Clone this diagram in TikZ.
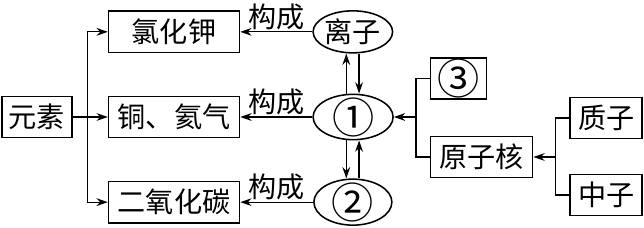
\documentclass[tikz,border=0pt]{standalone}
\usepackage{fontspec}
\newfontfamily\cjk{Noto Sans CJK SC}
\usetikzlibrary{positioning, arrows.meta, shapes.geometric}

\begin{document}
\begin{tikzpicture}[>={Stealth[length=8pt,width=5.5pt]}, line width=0.9pt,
                font=\cjk\fontsize{20}{24}\selectfont,
                box/.style={draw, line width=1.1pt, minimum height=1.03cm, inner sep=0pt},
                oval/.style={draw, ellipse, line width=1.1pt, inner sep=0pt},
                num/.style={font=\cjk\fontsize{30}{30}\selectfont, text height=22.8pt, text depth=0pt}]
                \useasboundingbox (0,0) rectangle (16.1,-5.7);
                \node[box, minimum width=1.75cm] (yuansu) at (0.925,-2.925) {元素};
                \node[box, minimum width=3.275cm] (cuhe) [right=0.875cm of yuansu] {铜、氦气};
                \node[box, minimum width=3.275cm] (kcl) [above=1.06cm of cuhe] {氯化钾};
                \node[box, minimum width=3.275cm] (co2) [below=1.06cm of cuhe] {二氧化碳};
                \node[oval, minimum width=1.775cm, minimum height=1.05cm] (ion) [right=1.8cm of kcl] {离子};
                \node[oval, num, minimum width=2cm, minimum height=1.075cm] (e1) [right=1.8cm of cuhe] {①};
                \node[oval, num, minimum width=1.95cm, minimum height=1.15cm] (e2) [right=1.82cm of co2] {②};
                \node[box, num, minimum width=1.4cm] (n3) [right=0.9cm of e1, yshift=0.96cm] {③};
                \node[box, minimum width=2.55cm] (nuc) [right=0.9cm of e1, yshift=-1cm] {原子核};
                \node[box, minimum width=1.8cm] (zhi) [right=0.9cm of nuc, yshift=0.975cm] {质子};
                \node[box, minimum width=1.8cm] (zhong) [right=0.9cm of nuc, yshift=-0.95cm] {中子};

                % element branches
                \coordinate (ysplit) at ([xshift=0.375cm]yuansu.east);
                \draw[->] (yuansu) -- (cuhe);
                \draw[->] (ysplit) |- (kcl);
                \draw[->] (ysplit) |- (co2);

                \path[->]
                (ion) edge node[above, inner sep=1pt] {构成} (kcl)
                (e1) edge node[above, inner sep=1pt] {构成} (cuhe)
                (e2) edge node[above, inner sep=1pt] {构成} (co2);

                % ion / atom / molecule
                \draw[->] ([xshift=-0.17cm]e1.north) -- ([xshift=-0.17cm]e1.north |- ion.south);
                \draw[->] ([xshift=0.15cm]e1.north |- ion.south) -- ([xshift=0.15cm]e1.north);
                \draw[->] ([xshift=-0.17cm]e1.south) -- ([xshift=-0.17cm]e1.south |- e2.north);
                \draw[->] ([xshift=0.15cm]e1.south |- e2.north) -- ([xshift=0.15cm]e1.south);

                % atom structure
                \coordinate (nsplit) at ([xshift=-0.35cm]nuc.west |- e1.east);
                \draw (n3.west) -- ++(-0.35,0) |- (nuc.west);
                \draw[->] (nsplit) -- (e1.east);
                \coordinate (zsplit) at ([xshift=-0.35cm]zhi.west |- nuc.east);
                \draw (zhi.west) -- ++(-0.35,0) |- (zhong.west);
                \draw[->] (zsplit) -- (nuc.east);
\end{tikzpicture}
\end{document}
